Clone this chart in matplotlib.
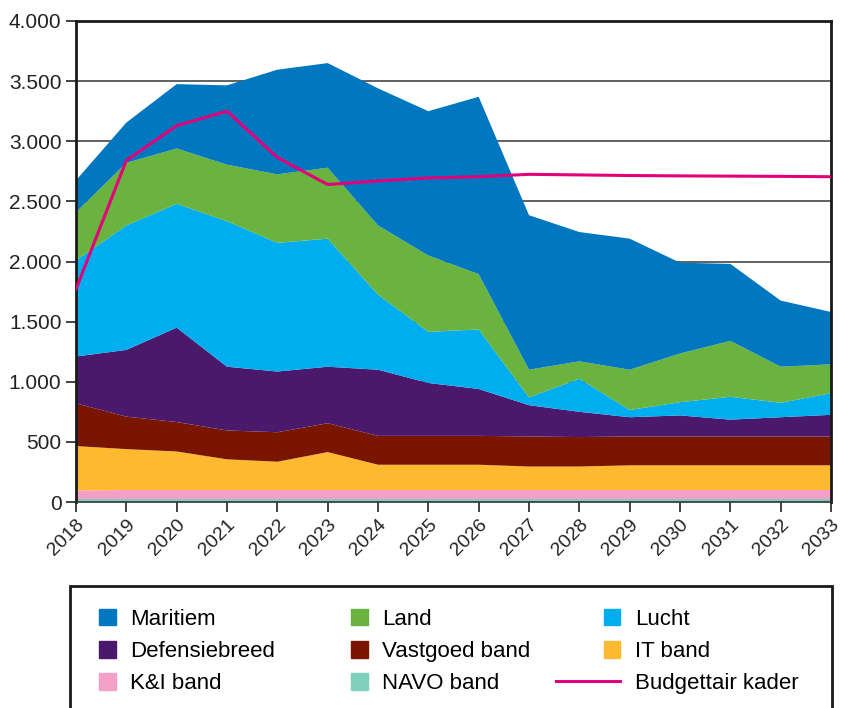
import numpy as np
import matplotlib.pyplot as plt
from matplotlib.patches import Patch, Rectangle
from matplotlib.lines import Line2D
from matplotlib.legend_handler import HandlerPatch

plt.rcParams['font.family'] = ['Liberation Sans', 'DejaVu Sans']

years = list(range(2018, 2034))

# stacked series, bottom to top (values per band)
navo      = [25, 25, 25, 25, 25, 25, 25, 25, 25, 25, 25, 25, 25, 25, 25, 25]
ki        = [70, 75, 75, 75, 75, 75, 75, 75, 75, 75, 75, 75, 75, 75, 75, 75]
it        = [370, 340, 320, 255, 235, 315, 210, 210, 210, 195, 195, 205, 205, 205, 205, 205]
vastgoed  = [355, 270, 245, 240, 245, 240, 240, 240, 240, 250, 245, 240, 240, 240, 240, 240]
defensie  = [390, 555, 785, 530, 505, 470, 550, 440, 390, 260, 210, 160, 175, 140, 160, 180]
lucht     = [800, 1035, 1030, 1210, 1070, 1065, 625, 425, 495, 65, 275, 60, 110, 190, 120, 180]
land      = [400, 520, 460, 470, 570, 590, 575, 635, 460, 230, 145, 335, 405, 465, 300, 240]
maritiem  = [265, 335, 535, 660, 870, 870, 1140, 1200, 1475, 1285, 1075, 1090, 755, 640, 550, 435]

kader = [1770, 2840, 3130, 3250, 2865, 2640, 2670, 2695, 2705, 2725, 2720, 2715, 2712, 2710, 2708, 2705]

series = [navo, ki, it, vastgoed, defensie, lucht, land, maritiem]
names = ['NAVO band', 'K&I band', 'IT band', 'Vastgoed band', 'Defensiebreed',
         'Lucht', 'Land', 'Maritiem']
colors = ['#7fcfba', '#f4a0c6', '#fdb92f', '#7a1600', '#4a196b',
          '#00adef', '#6bb33f', '#0077be']
line_color = '#e2007a'

fig = plt.figure(figsize=(8.42, 7.08), dpi=100)
ax = fig.add_axes([76/842, 1 - 502/708, (831-76)/842, (502-21)/708])

ax.stackplot(years, *series, colors=colors, linewidth=0)
ax.plot(years, kader, color=line_color, lw=2.2, zorder=5)

ax.set_xlim(2018, 2033)
ax.set_ylim(0, 4000)
yt = np.arange(0, 4001, 500)
ax.set_yticks(yt)
ax.set_yticklabels([f"{v:,}".replace(",", ".") for v in yt])
ax.set_xticks(years)
ax.set_xticklabels([str(y) for y in years], rotation=45, ha='right',
                   rotation_mode='anchor')
ax.tick_params(axis='y', labelsize=15)
ax.tick_params(axis='x', labelsize=14, pad=3)
ax.tick_params(axis='both', color='#222222', width=1.2, length=7,
               colors='#222222')

ax.grid(axis='y', color='#555555', lw=1.3)
ax.set_axisbelow(True)
for s in ['left', 'top', 'right']:
    ax.spines[s].set_linewidth(2)
    ax.spines[s].set_color('#1a1a1a')
ax.spines['bottom'].set_linewidth(1.2)
ax.spines['bottom'].set_color('#333333')

# legend frame (runs past bottom edge)
fig.patches.append(Rectangle((70/842, -0.05), (832-70)/842, 0.05 + (1 - 586/708),
                             transform=fig.transFigure, fill=False,
                             edgecolor='#1a1a1a', lw=2))


def square(legend, orig_handle, xdescent, ydescent, width, height, fontsize):
    return Rectangle((-xdescent + width - height, -ydescent), height, height)


lookup = dict(zip(names, colors))
cols = [['Maritiem', 'Defensiebreed', 'K&I band'],
        ['Land', 'Vastgoed band', 'NAVO band'],
        ['Lucht', 'IT band', None]]
col_x = [99, 351, 556]
for cx, col in zip(col_x, cols):
    handles, labels = [], []
    for n in col:
        if n is None:
            handles.append(Line2D([], [], color=line_color, lw=2.2))
            labels.append('Budgettair kader')
        else:
            handles.append(Patch(color=lookup[n]))
            labels.append(n)
    hl = 2.9 if None in col else 0.75
    fig.legend(handles, labels, loc='upper left',
               bbox_to_anchor=(cx/842, 1 - 609/708), frameon=False,
               fontsize=16, handlelength=hl, handleheight=0.75,
               handletextpad=0.65, labelspacing=0.5, borderpad=0,
               borderaxespad=0, handler_map={Patch: HandlerPatch(patch_func=square)})

fig.savefig('out.png', dpi=100)
